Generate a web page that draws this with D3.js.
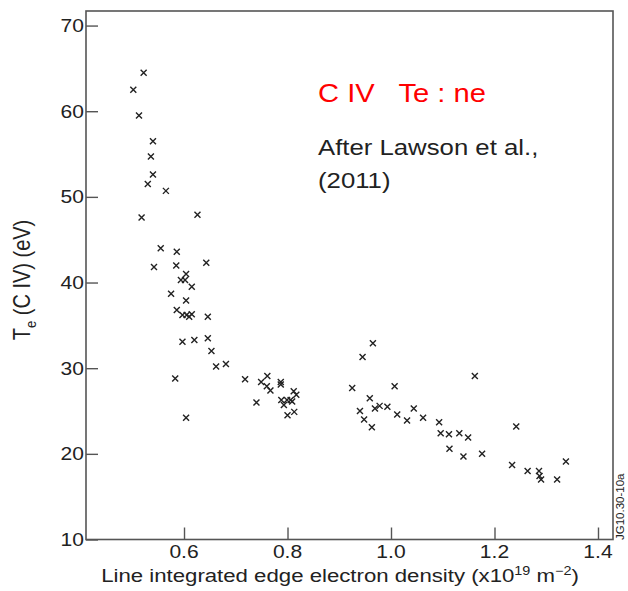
<!DOCTYPE html>
<html>
<head>
<meta charset="utf-8">
<script src="https://cdn.jsdelivr.net/npm/d3@7"></script>
<style>
  body { margin: 0; background: #fff; }
  text { font-family: "Liberation Sans", Arial, sans-serif; fill: #222; }
</style>
</head>
<body>
<svg id="chart" width="628" height="591"></svg>
<script>
// line integrated edge density (x10^19 m^-2)
var density = [
  0.522, 0.502, 0.513, 0.540, 0.536, 0.540, 0.530, 0.565, 0.518, 0.626,
  0.555, 0.586, 0.542, 0.585, 0.643, 0.604, 0.594, 0.602, 0.615, 0.575,
  0.604, 0.586, 0.597, 0.605, 0.610, 0.615, 0.646, 0.597, 0.620, 0.646,
  0.653, 0.662, 0.681, 0.583, 0.718, 0.749, 0.761, 0.760, 0.767, 0.787,
  0.787, 0.812, 0.817, 0.740, 0.788, 0.793, 0.799, 0.806, 0.809, 0.800,
  0.813, 0.604,
  0.965, 0.945, 0.925, 1.007, 1.162, 0.959, 0.940, 0.969, 0.978, 0.993,
  0.948, 0.963, 1.012, 1.031, 1.044, 1.062, 1.093, 1.096, 1.112, 1.132,
  1.149, 1.113, 1.140, 1.176, 1.242, 1.234, 1.264, 1.286, 1.287, 1.290,
  1.321, 1.338
];
// Te (C IV) in eV
var temperature = [
  64.5, 62.5, 59.5, 56.5, 54.7, 52.6, 51.5, 50.7, 47.6, 47.9,
  44.0, 43.6, 41.8, 42.0, 42.3, 41.0, 40.3, 40.3, 39.5, 38.7,
  37.9, 36.8, 36.2, 36.2, 36.0, 36.3, 36.0, 33.1, 33.3, 33.5,
  32.0, 30.2, 30.5, 28.8, 28.7, 28.4, 29.1, 27.9, 27.4, 28.4,
  28.1, 27.3, 26.9, 26.0, 26.3, 25.7, 26.3, 26.3, 26.1, 24.5,
  24.9, 24.2,
  32.9, 31.3, 27.7, 27.9, 29.1, 26.5, 25.0, 25.3, 25.6, 25.5,
  24.0, 23.1, 24.6, 23.9, 25.3, 24.2, 23.7, 22.4, 22.3, 22.4,
  21.9, 20.6, 19.7, 20.0, 23.2, 18.7, 18.0, 18.0, 17.4, 17.0,
  17.0, 19.1
];
var xTicks = [0.6, 0.8, 1.0, 1.2, 1.4];
var yTicks = [10, 20, 30, 40, 50, 60, 70];

var svg = d3.select('#chart');
// plot frame in pixels
var frame = {left: 86, right: 613, top: 11, bottom: 539.5};
var sx = 1.17; // the picture is a little stretched sideways

var x = d3.scaleLinear().domain([0.4106, 1.429]).range([frame.left, frame.right]);
var y = d3.scaleLinear().domain([10, 71.7]).range([frame.bottom, frame.top]);

// frame
svg.append('rect')
  .attr('x', frame.left).attr('y', frame.top)
  .attr('width', frame.right - frame.left).attr('height', frame.bottom - frame.top)
  .style('fill', 'none').style('stroke', '#555').style('stroke-width', 1.6);

// inward ticks
svg.append('g')
  .attr('transform', 'translate(0,' + frame.bottom + ')')
  .call(d3.axisBottom(x).tickValues(xTicks).tickSize(-12).tickFormat(''));
svg.append('g')
  .attr('transform', 'translate(' + frame.left + ',0)')
  .call(d3.axisLeft(y).tickValues(yTicks).tickSize(-12).tickFormat(''));
svg.selectAll('.domain').remove();
svg.selectAll('.tick line').style('stroke', '#555').style('stroke-width', 1.4);

// tick labels
svg.selectAll('text.xt')
  .data(xTicks)
  .enter().append('text')
  .attr('class', 'xt')
  .attr('transform', function(d) { return 'translate(' + x(d) + ',558) scale(' + sx + ',1)'; })
  .attr('text-anchor', 'middle')
  .style('font-size', '18px')
  .text(function(d) { return d3.format('.1f')(d); });
svg.selectAll('text.yt')
  .data(yTicks)
  .enter().append('text')
  .attr('class', 'yt')
  .attr('transform', function(d) { return 'translate(84,' + (y(d) + 6.4) + ') scale(' + sx + ',1)'; })
  .attr('text-anchor', 'end')
  .style('font-size', '18px')
  .text(function(d) { return d; });

// axis labels
var xl = svg.append('text')
  .attr('transform', 'translate(340,582) scale(1.2,1)')
  .attr('text-anchor', 'middle')
  .style('font-size', '18.5px');
xl.append('tspan').text('Line integrated edge electron density (x10');
xl.append('tspan').attr('dy', -7).style('font-size', '12px').text('19');
xl.append('tspan').attr('dy', 7).text(' m');
xl.append('tspan').attr('dy', -7).style('font-size', '12px').text('\u22122');
xl.append('tspan').attr('dy', 7).text(')');

var yl = svg.append('text')
  .attr('transform', 'translate(30,280) scale(' + sx + ',1) rotate(-90)')
  .attr('text-anchor', 'middle')
  .style('font-size', '20px');
yl.append('tspan').text('T');
yl.append('tspan').attr('dy', 5).style('font-size', '13px').text('e');
yl.append('tspan').attr('dy', -5).text(' (C IV) (eV)');

// figure id
svg.append('text')
  .attr('transform', 'translate(623.5,540) rotate(-90)')
  .style('font-size', '11.5px')
  .text('JG10.30-10a');

// annotations
svg.append('text')
  .attr('transform', 'translate(318,102) scale(1.1,1)')
  .style('font-size', '26.5px')
  .style('fill', '#f00')
  .attr('xml:space', 'preserve')
  .text('C IV   Te : ne');
svg.append('text')
  .attr('transform', 'translate(318,155) scale(' + sx + ',1)')
  .style('font-size', '22px')
  .text('After Lawson et al.,');
svg.append('text')
  .attr('transform', 'translate(318,188) scale(' + sx + ',1)')
  .style('font-size', '22px')
  .text('(2011)');

// data points as crosses
svg.append('g')
  .selectAll('path')
  .data(density.map(function(d, i) { return [d, temperature[i]]; }))
  .enter().append('path')
  .attr('transform', function(d) { return 'translate(' + x(d[0]) + ',' + y(d[1]) + ')'; })
  .attr('d', 'M-3,-3L3,3M-3,3L3,-3')
  .style('stroke', '#222')
  .style('stroke-width', 1.4)
  .style('fill', 'none');
</script>
</body>
</html>
